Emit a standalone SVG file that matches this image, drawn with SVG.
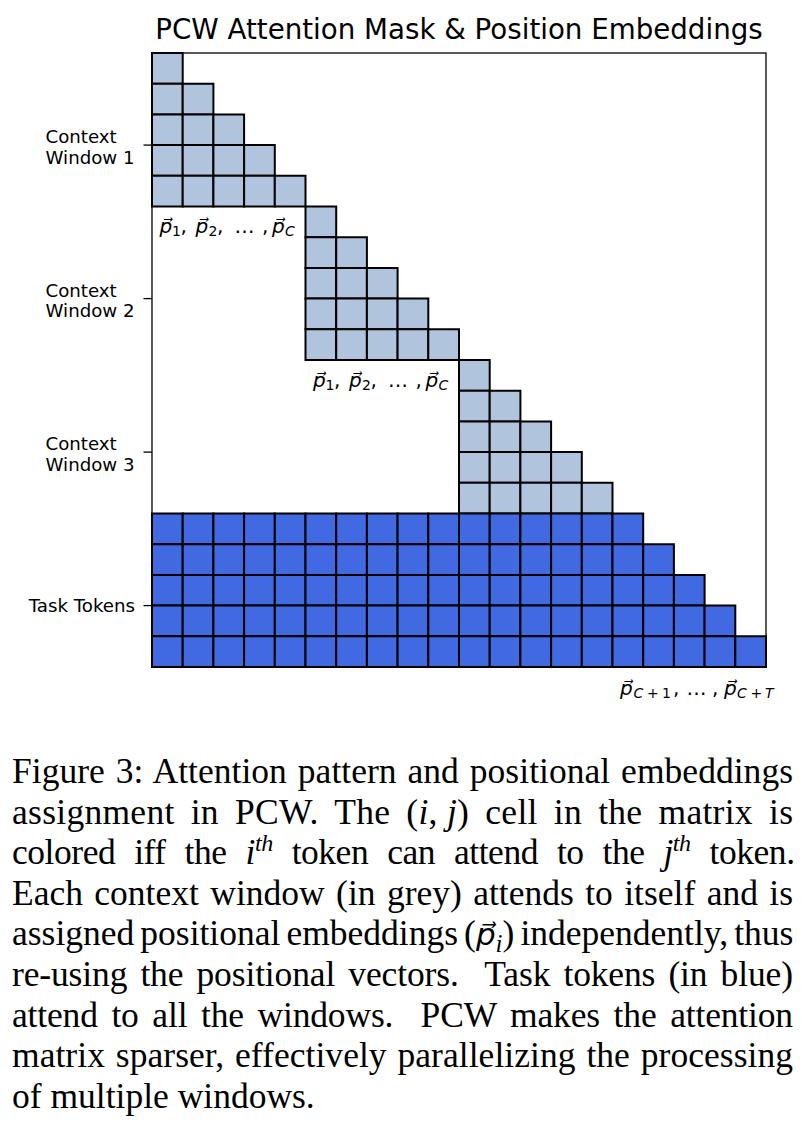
<svg xmlns="http://www.w3.org/2000/svg" xmlns:xlink="http://www.w3.org/1999/xlink" width="806" height="1134" viewBox="0 0 806 1134">
<style>
.ctx{fill:#b0c4de;stroke:#000;stroke-width:2;vector-effect:non-scaling-stroke}
.task{fill:#4169e1;stroke:#000;stroke-width:2;vector-effect:non-scaling-stroke}
.lbl{font-family:"DejaVu Sans",sans-serif;font-size:18.2px;fill:#000}
.title{font-family:"DejaVu Sans",sans-serif;font-size:27.7px;text-anchor:middle;fill:#000}
.pv{font-family:"DejaVu Sans",sans-serif;font-size:20px;fill:#000}
.it{font-style:italic}
.sub{font-size:14px}
.cap{font-family:"Liberation Serif","Times New Roman",serif;font-size:35.5px;fill:#000}
.sup{font-size:24px;font-style:italic}
.pvec{font-family:"DejaVu Serif","DejaVu Sans",serif;font-style:italic;font-size:31px}
.spine{fill:none;stroke:#000;stroke-width:1.3}
.tick{stroke:#000;stroke-width:1.3}
</style>
<defs>
<g id="tri">
<rect class="ctx" x="0" y="0" width="1" height="1"/>
<rect class="ctx" x="0" y="1" width="1" height="1"/><rect class="ctx" x="1" y="1" width="1" height="1"/>
<rect class="ctx" x="0" y="2" width="1" height="1"/><rect class="ctx" x="1" y="2" width="1" height="1"/><rect class="ctx" x="2" y="2" width="1" height="1"/>
<rect class="ctx" x="0" y="3" width="1" height="1"/><rect class="ctx" x="1" y="3" width="1" height="1"/><rect class="ctx" x="2" y="3" width="1" height="1"/><rect class="ctx" x="3" y="3" width="1" height="1"/>
<rect class="ctx" x="0" y="4" width="1" height="1"/><rect class="ctx" x="1" y="4" width="1" height="1"/><rect class="ctx" x="2" y="4" width="1" height="1"/><rect class="ctx" x="3" y="4" width="1" height="1"/><rect class="ctx" x="4" y="4" width="1" height="1"/>
</g>
<g id="r16">
<rect class="task" x="0" y="0" width="1" height="1"/><rect class="task" x="1" y="0" width="1" height="1"/><rect class="task" x="2" y="0" width="1" height="1"/><rect class="task" x="3" y="0" width="1" height="1"/>
<rect class="task" x="4" y="0" width="1" height="1"/><rect class="task" x="5" y="0" width="1" height="1"/><rect class="task" x="6" y="0" width="1" height="1"/><rect class="task" x="7" y="0" width="1" height="1"/>
<rect class="task" x="8" y="0" width="1" height="1"/><rect class="task" x="9" y="0" width="1" height="1"/><rect class="task" x="10" y="0" width="1" height="1"/><rect class="task" x="11" y="0" width="1" height="1"/>
<rect class="task" x="12" y="0" width="1" height="1"/><rect class="task" x="13" y="0" width="1" height="1"/><rect class="task" x="14" y="0" width="1" height="1"/><rect class="task" x="15" y="0" width="1" height="1"/>
</g>
</defs>
<rect width="806" height="1134" fill="#fff"/>
<text class="title" x="459" y="39">PCW Attention Mask &amp; Position Embeddings</text>
<g transform="translate(152 53) scale(30.7)">
<g id="window1"><use xlink:href="#tri" x="0" y="0"/></g>
<g id="window2"><use xlink:href="#tri" x="5" y="5"/></g>
<g id="window3"><use xlink:href="#tri" x="10" y="10"/></g>
<g id="task-tokens">
<use xlink:href="#r16" x="0" y="15"/>
<use xlink:href="#r16" x="0" y="16"/><rect class="task" x="16" y="16" width="1" height="1"/>
<use xlink:href="#r16" x="0" y="17"/><rect class="task" x="16" y="17" width="1" height="1"/><rect class="task" x="17" y="17" width="1" height="1"/>
<use xlink:href="#r16" x="0" y="18"/><rect class="task" x="16" y="18" width="1" height="1"/><rect class="task" x="17" y="18" width="1" height="1"/><rect class="task" x="18" y="18" width="1" height="1"/>
<use xlink:href="#r16" x="0" y="19"/><rect class="task" x="16" y="19" width="1" height="1"/><rect class="task" x="17" y="19" width="1" height="1"/><rect class="task" x="18" y="19" width="1" height="1"/><rect class="task" x="19" y="19" width="1" height="1"/>
</g>
</g>
<g id="axes">
<rect class="spine" x="152" y="53" width="614" height="614"/>
<line class="tick" x1="143.5" y1="145.1" x2="152" y2="145.1"/>
<line class="tick" x1="143.5" y1="298.6" x2="152" y2="298.6"/>
<line class="tick" x1="143.5" y1="452.1" x2="152" y2="452.1"/>
<line class="tick" x1="143.5" y1="605.6" x2="152" y2="605.6"/>
</g>
<g id="label-window1"><text class="lbl" x="45.5" y="143"><tspan x="45.5">Context</tspan><tspan x="45.5" dy="20.8">Window 1</tspan></text></g>
<g id="label-window2"><text class="lbl" x="45.5" y="296.5"><tspan x="45.5">Context</tspan><tspan x="45.5" dy="20.8">Window 2</tspan></text></g>
<g id="label-window3"><text class="lbl" x="45.5" y="450"><tspan x="45.5">Context</tspan><tspan x="45.5" dy="20.8">Window 3</tspan></text></g>
<g id="label-task"><text class="lbl" x="135" y="611.5" text-anchor="end">Task Tokens</text></g>
<g id="pos-window1"><text class="pv" y="233"><tspan x="159.5" class="it">p⃗</tspan><tspan class="sub" x="172" dy="3">1</tspan><tspan x="180.5" dy="-3">,</tspan><tspan x="195.5" class="it">p⃗</tspan><tspan class="sub" x="208.5" dy="3">2</tspan><tspan x="217" dy="-3">,</tspan><tspan x="234.5">…</tspan><tspan x="262">,</tspan><tspan x="272" class="it">p⃗</tspan><tspan class="sub it" x="285" dy="3">C</tspan></text></g>
<g id="pos-window2"><text class="pv" y="386.5"><tspan x="313" class="it">p⃗</tspan><tspan class="sub" x="325.5" dy="3">1</tspan><tspan x="334" dy="-3">,</tspan><tspan x="349" class="it">p⃗</tspan><tspan class="sub" x="362" dy="3">2</tspan><tspan x="370.5" dy="-3">,</tspan><tspan x="388">…</tspan><tspan x="415.5">,</tspan><tspan x="425.5" class="it">p⃗</tspan><tspan class="sub it" x="438.5" dy="3">C</tspan></text></g>
<g id="pos-task"><text class="pv" y="695"><tspan x="620" class="it">p⃗</tspan><tspan class="sub it" x="633.5" dy="3">C</tspan><tspan class="sub" x="647">+</tspan><tspan class="sub" x="662">1</tspan><tspan x="673" dy="-3">,</tspan><tspan x="686.5">…</tspan><tspan x="712">,</tspan><tspan x="724" class="it">p⃗</tspan><tspan class="sub it" x="737" dy="3">C</tspan><tspan class="sub" x="750.5">+</tspan><tspan class="sub it" x="765">T</tspan></text></g>
<g id="caption" class="cap">
<text x="12" y="783" word-spacing="2" textLength="781" lengthAdjust="spacing">Figure 3: Attention pattern and positional embeddings</text>
<text x="12" y="823.6" word-spacing="7" textLength="781" lengthAdjust="spacing">assignment in PCW. The (<tspan class="it">i</tspan>,&#8197;<tspan class="it">j</tspan>) cell in the matrix is</text>
<text x="12" y="864.2" word-spacing="10.5" textLength="783" lengthAdjust="spacing">colored iff the <tspan class="it">i</tspan><tspan class="sup" dy="-13">th</tspan><tspan dy="13"> token can attend to the </tspan><tspan class="it">j</tspan><tspan class="sup" dy="-13">th</tspan><tspan dy="13"> token.</tspan></text>
<text x="12" y="904.8" word-spacing="2.5" textLength="781" lengthAdjust="spacing">Each context window (in grey) attends to itself and is</text>
<text x="12" y="945.4" word-spacing="-2.8">assigned positional embeddings (<tspan class="pvec">p⃗</tspan><tspan class="it" font-size="25" dy="7">i</tspan><tspan dy="-7">) independently, thus</tspan></text>
<text x="12" y="986" word-spacing="4.4" textLength="781" lengthAdjust="spacing">re-using the positional vectors.&#160; Task tokens (in blue)</text>
<text x="12" y="1026.6" word-spacing="5" textLength="781" lengthAdjust="spacing">attend to all the windows.&#160; PCW makes the attention</text>
<text x="12" y="1067.2" word-spacing="2" textLength="781" lengthAdjust="spacing">matrix sparser, effectively parallelizing the processing</text>
<text x="12" y="1107.8">of multiple windows.</text>
</g>
</svg>
